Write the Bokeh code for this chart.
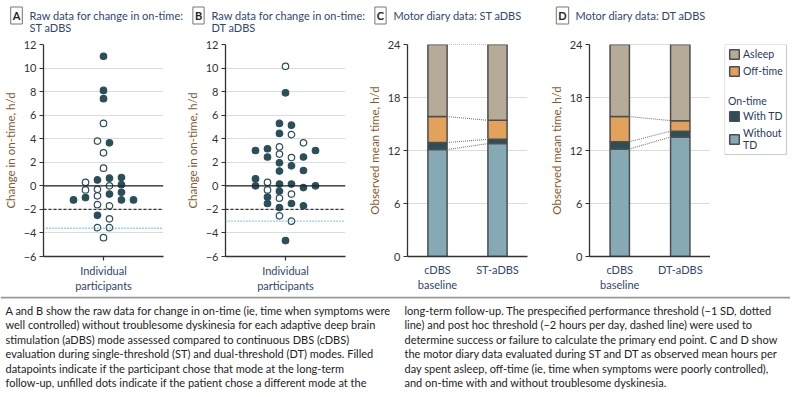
from bokeh.plotting import figure
from bokeh.layouts import row, column
from bokeh.models import (FixedTicker, Span, Label, ColumnDataSource, Legend, LegendItem, Range1d,
                          BoxAnnotation)
from bokeh.embed import file_html
from bokeh.resources import INLINE
from bokeh.core.properties import value

FONT = "Lato"
TITLE_C = "#2f4770"
AXLABEL_C = "#8a5a2e"
TICK_C = "#333333"
DARK = "#2a4f5a"
LIGHT = "#86a9b6"
ORANGE = "#e3a25c"
TAN = "#b6ab98"

# ---------------- Panel A: ST aDBS, change in on-time (h/d) ----------------
a_change = [11.0, 8.1, 7.4, 5.3, 3.8, 3.65, 2.8, 1.5, 0.5, 0.65, 0.7, 0.3, 0.0, 0.1,
            -0.35, -0.3, -0.7, -0.55, -0.85, -1.2, -1.0, -1.2, -1.2, -1.6, -1.7,
            -2.5, -2.8, -3.55, -3.55, -4.4]
a_column = [0, 0, 0, 0, -1, 1, 0, 0, -1, 1, 3, -3, 1, 3,
            -3, -1, 1, 3, -1, -5, -3, 3, 5, -1, 1,
            -1, 1, -1, 1, 0]
a_chose = [1, 1, 1, 0, 0, 1, 0, 0, 1, 1, 1, 0, 0, 1,
           0, 0, 1, 1, 0, 1, 1, 1, 1, 0, 0,
           1, 0, 0, 0, 0]
a_sd_threshold = -3.6

# ---------------- Panel B: DT aDBS ----------------
b_change = [10.15, 7.9, 5.3, 5.15, 4.45, 4.35, 3.3, 3.65, 3.0, 3.15, 3.0, 2.45, 2.7, 2.4,
            2.45, 1.95, 1.7, 1.25, 1.3, 0.6, 0.0, 0.3, 0.15, 0.15, -0.15, 0.0,
            -0.35, -0.45, -0.7, -0.95, -1.05, -1.5, -1.5, -1.7, -1.85, -2.55, -3.0, -4.65]
b_column = [0, 0, -1, 1, -1, 1, -1, 3, -5, -3, 5, -3, -1, 1,
            3, -1, 1, -1, 3, -5, -5, -3, -1, 1, 3, 5,
            -3, -1, 1, -3, -1, -3, 1, 3, -1, -1, 1, 0]
b_chose = [0, 1, 1, 1, 1, 0, 0, 0, 1, 1, 1, 1, 0, 0,
           1, 1, 1, 1, 1, 1, 1, 0, 1, 1, 1, 1,
           0, 1, 0, 1, 0, 1, 1, 1, 1, 0, 0, 1]
b_sd_threshold = -3.0

post_hoc_threshold = -2.0
scatter_ticks = [-6, -4, -2, 0, 2, 4, 6, 8, 10, 12]
swarm_step = 0.1

# ---------------- Panels C / D: motor diary (h/d) ----------------
c_conditions = ["cDBS\nbaseline", "ST-aDBS"]
c_without_td = [12.1, 12.78]
c_with_td = [0.8, 0.49]
c_off_time = [2.94, 2.15]
c_asleep = [8.16, 8.58]

d_conditions = ["cDBS\nbaseline", "DT-aDBS"]
d_without_td = [12.17, 13.53]
d_with_td = [0.83, 0.65]
d_off_time = [2.84, 1.2]
d_asleep = [8.16, 8.62]

bar_ticks = [0, 6, 12, 18, 24]
bar_width = 0.32

panel_letters = ["A", "B", "C", "D"]
panel_titles = [("Raw data for change in on-time:", "ST aDBS"),
                ("Raw data for change in on-time:", "DT aDBS"),
                ("Motor diary data: ST aDBS", ""),
                ("Motor diary data: DT aDBS", "")]

caption_left = [
    "A and B show the raw data for change in on-time (ie, time when symptoms were",
    "well controlled) without troublesome dyskinesia for each adaptive deep brain",
    "stimulation (aDBS) mode assessed compared to continuous DBS (cDBS)",
    "evaluation during single-threshold (ST) and dual-threshold (DT) modes. Filled",
    "datapoints indicate if the participant chose that mode at the long-term",
    "follow-up, unfilled dots indicate if the patient chose a different mode at the",
]
caption_right = [
    "long-term follow-up. The prespecified performance threshold (\u22121 SD, dotted",
    "line) and post hoc threshold (\u22122 hours per day, dashed line) were used to",
    "determine success or failure to calculate the primary end point. C and D show",
    "the motor diary data evaluated during ST and DT as observed mean hours per",
    "day spent asleep, off-time (ie, time when symptoms were poorly controlled),",
    "and on-time with and without troublesome dyskinesia.",
]

PANEL_W = 182
PANEL_H = 260
FRAME_LEFT = 41
FRAME_W = 122
BORDER_TOP = 8
BORDER_BOTTOM = 40


def style_axes(p):
    p.outline_line_color = None
    p.xgrid.visible = False
    p.ygrid.grid_line_color = "#dcdcdc"
    p.ygrid.grid_line_width = 1.2
    for ax in (p.xaxis[0], p.yaxis[0]):
        ax.axis_line_color = "#333333"
        ax.axis_line_width = 1.3
        ax.major_tick_line_color = "#333333"
        ax.major_tick_line_width = 1.2
        ax.major_tick_in = 0
        ax.major_tick_out = 4
        ax.minor_tick_line_color = None
        ax.major_label_text_font = FONT
        ax.major_label_text_font_size = "11px"
        ax.major_label_standoff = 3
    p.yaxis.major_label_text_color = TICK_C
    p.xaxis.major_label_text_color = TITLE_C
    p.yaxis.axis_label_text_font = FONT
    p.yaxis.axis_label_text_font_size = "11.5px"
    p.yaxis.axis_label_text_font_style = "normal"
    p.yaxis.axis_label_text_color = AXLABEL_C
    p.yaxis.axis_label_standoff = 4


def scatter_panel(change, col, chose, sd_thr):
    p = figure(width=PANEL_W, height=PANEL_H, x_range=Range1d(-1, 1), y_range=Range1d(-6, 12),
               output_backend="svg", toolbar_location=None,
               min_border_left=FRAME_LEFT, min_border_right=PANEL_W - FRAME_LEFT - FRAME_W,
               min_border_top=BORDER_TOP, min_border_bottom=BORDER_BOTTOM)
    style_axes(p)
    p.yaxis.ticker = FixedTicker(ticks=scatter_ticks)
    p.ygrid.ticker = FixedTicker(ticks=scatter_ticks)
    p.xaxis.ticker = FixedTicker(ticks=[0])
    p.xaxis.major_label_overrides = {0: "Individual\nparticipants"}
    p.yaxis.axis_label = "Change in on-time, h/d"

    p.add_layout(Span(location=0, dimension="width", line_color="#222222", line_width=1.2))
    p.add_layout(Span(location=post_hoc_threshold, dimension="width", line_color="#333333",
                      line_width=1.2, line_dash="3 2"))
    p.add_layout(Span(location=sd_thr, dimension="width", line_color="#2aa8e0",
                      line_width=1.4, line_dash="1 2"))

    src = ColumnDataSource(dict(
        x=[c * swarm_step for c in col],
        y=change,
        fill=[DARK if f else "white" for f in chose],
    ))
    p.scatter("x", "y", source=src, size=6.5, fill_color="fill", line_color=DARK, line_width=1.2)
    return p


def diary_source(conds, without_td, with_td, off_time, asleep):
    xs = [i + 0.5 for i in range(len(conds))]
    return xs, ColumnDataSource(dict(x=xs, without_td=without_td, with_td=with_td,
                                     off_time=off_time, asleep=asleep))


STACKERS = ["without_td", "with_td", "off_time", "asleep"]
STACK_COLORS = [LIGHT, DARK, ORANGE, TAN]


def diary_panel(conds, without_td, with_td, off_time, asleep, width, right_border):
    p = figure(width=width, height=PANEL_H, x_range=Range1d(0, len(conds)),
               y_range=Range1d(0, 24), output_backend="svg", toolbar_location=None,
               min_border_left=FRAME_LEFT, min_border_right=right_border,
               min_border_top=BORDER_TOP, min_border_bottom=BORDER_BOTTOM)
    style_axes(p)
    xs, src = diary_source(conds, without_td, with_td, off_time, asleep)
    p.yaxis.ticker = FixedTicker(ticks=bar_ticks)
    p.ygrid.ticker = FixedTicker(ticks=bar_ticks)
    p.xaxis.ticker = FixedTicker(ticks=xs)
    p.xaxis.major_label_overrides = {x: c for x, c in zip(xs, conds)}
    p.xaxis.major_tick_out = 0
    p.xaxis.major_label_standoff = 6
    p.yaxis.axis_label = "Observed mean time, h/d"

    p.vbar_stack(STACKERS, x="x", width=bar_width, color=STACK_COLORS,
                 source=src, line_color="#4d4d4d", line_width=1.5)

    # dotted connectors between the cumulative levels of the two bars
    levels0, levels1 = [], []
    t0 = t1 = 0
    for s in (without_td, with_td, off_time, asleep):
        t0 += s[0]
        t1 += s[1]
        levels0.append(t0)
        levels1.append(t1)
    p.segment(x0=[xs[0] + bar_width / 2] * 4, y0=levels0,
              x1=[xs[1] - bar_width / 2] * 4, y1=levels1,
              line_color="#777777", line_width=1.1, line_dash="1 1")
    return p


pA = scatter_panel(a_change, a_column, a_chose, a_sd_threshold)
pB = scatter_panel(b_change, b_column, b_chose, b_sd_threshold)
pC = diary_panel(c_conditions, c_without_td, c_with_td, c_off_time, c_asleep, PANEL_W,
                 PANEL_W - FRAME_LEFT - FRAME_W)
pD = diary_panel(d_conditions, d_without_td, d_with_td, d_off_time, d_asleep,
                 FRAME_LEFT + FRAME_W + 1, 0)

# ---------------- legend (own small figure to the right of D) ----------------
LEG_W = 80
LEG_LEFT = 14
LEG_FRAME_W = LEG_W - LEG_LEFT
LEG_BOX_W = 62
FRAME_H = PANEL_H - BORDER_TOP - BORDER_BOTTOM
LEG_BOX_H = 110
lf = figure(width=LEG_W, height=PANEL_H, x_range=Range1d(0, LEG_FRAME_W), y_range=Range1d(FRAME_H, 0),
            output_backend="svg", toolbar_location=None,
            min_border_left=LEG_LEFT, min_border_right=0, min_border_top=BORDER_TOP,
            min_border_bottom=BORDER_BOTTOM)
lf.axis.visible = False
lf.grid.visible = False
lf.outline_line_color = None
lf.add_layout(BoxAnnotation(left=0, right=LEG_BOX_W, top=0, bottom=LEG_BOX_H, fill_alpha=0,
                            line_color="#555555", line_width=1.2))
# legend swatches use the panel D series (hidden renderers, only their legend glyphs show)
_, leg_src = diary_source(d_conditions, d_without_td, d_with_td, d_off_time, d_asleep)
swatch = {}
for name, colr in zip(STACKERS, STACK_COLORS):
    swatch[name] = lf.vbar(x="x", top=name, width=0.1, source=leg_src, fill_color=colr,
                           line_color="#4d4d4d", line_width=1.5, visible=False)
leg_style = dict(label_text_font=FONT, label_text_font_size="10.5px", label_text_color="#1f3a5f",
                 glyph_width=12, glyph_height=12, label_height=12, label_standoff=3, spacing=5,
                 padding=7, border_line_color=None, background_fill_alpha=0)
leg1 = Legend(items=[LegendItem(label="Asleep", renderers=[swatch["asleep"]]),
                     LegendItem(label="Off-time", renderers=[swatch["off_time"]])],
              location="top_left", margin=4, **leg_style)
leg2 = Legend(items=[LegendItem(label="With TD", renderers=[swatch["with_td"]]),
                     LegendItem(label="Without\nTD", renderers=[swatch["without_td"]])],
              location=(4, FRAME_H - LEG_BOX_H + 3), margin=0, title="On-time",
              title_text_font=FONT, title_text_font_size="10.5px", title_text_font_style="normal",
              title_text_color="#1f3a5f", title_standoff=3, **leg_style)
lf.add_layout(leg1)
lf.add_layout(leg2)

# ---------------- header with panel letters and titles ----------------
TOTAL_W = 3 * PANEL_W + pD.width + LEG_W
HEAD_H = 36
head = figure(width=TOTAL_W, height=HEAD_H, x_range=Range1d(0, TOTAL_W), y_range=Range1d(HEAD_H, 0),
              output_backend="svg", toolbar_location=None, min_border=0)
head.axis.visible = False
head.grid.visible = False
head.outline_line_color = None
for i, (letter, (t1, t2)) in enumerate(zip(panel_letters, panel_titles)):
    x0 = i * PANEL_W
    head.add_layout(Label(x=x0 + 16, y=15, text=letter, text_align="center", text_baseline="middle",
                          text_font=FONT, text_font_style="bold", text_font_size="11px",
                          text_color="#222222", border_line_color="#777777", border_line_width=1,
                          background_fill_color="white", padding=2))
    head.text(x=[x0 + 29], y=[14.5], text=[t1], text_font=value(FONT), text_font_size="11px",
              text_baseline="middle", text_color=TITLE_C)
    if t2:
        head.text(x=[x0 + 29], y=[27], text=[t2], text_font=value(FONT), text_font_size="11px",
                  text_baseline="middle", text_color=TITLE_C)

# ---------------- caption ----------------
CAP_H = 93
cap = figure(width=TOTAL_W, height=CAP_H, x_range=Range1d(0, TOTAL_W), y_range=Range1d(CAP_H, 0),
             output_backend="svg", toolbar_location=None, min_border=0)
cap.axis.visible = False
cap.grid.visible = False
cap.outline_line_color = None
cap.add_layout(Span(location=1, dimension="width", line_color="#999999", line_width=2))
line_y = [14 + 14.4 * i for i in range(len(caption_left))]
cap.text(x=[5] * len(caption_left), y=line_y, text=caption_left, text_font=value(FONT),
         text_font_size="11px", text_baseline="middle", text_color="#222222")
cap.text(x=[404] * len(caption_right), y=line_y[:len(caption_right)], text=caption_right,
         text_font=value(FONT), text_font_size="11px", text_baseline="middle", text_color="#222222")

layout = column(head, row(pA, pB, pC, pD, lf), cap)
open("out.html", "w").write(file_html(layout, INLINE))
